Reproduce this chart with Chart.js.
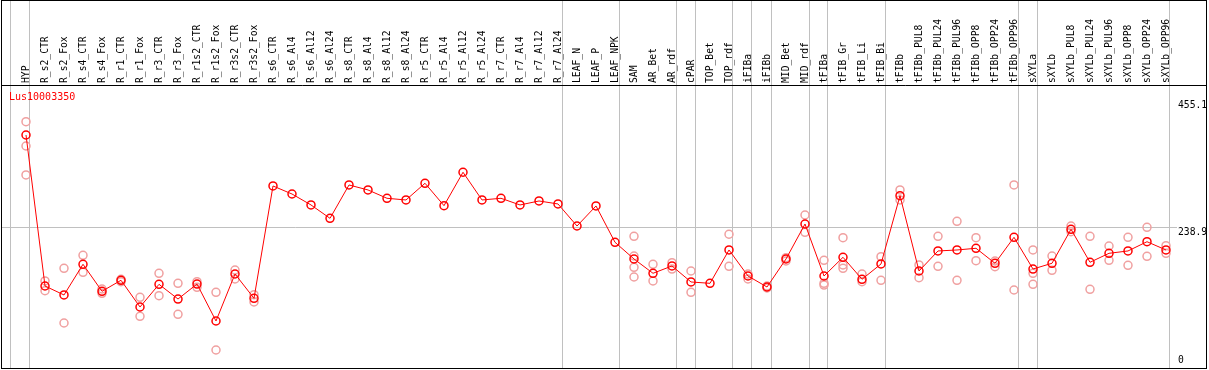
<!DOCTYPE html>
<html>
<head>
<meta charset="utf-8">
<script src="https://cdn.jsdelivr.net/npm/chart.js@4"></script>
<style>
  html, body { margin: 0; padding: 0; background: #fff; }
  canvas { display: block; }
</style>
</head>
<body>
<canvas id="exprChart" width="1209" height="370"></canvas>
<script>
// gene shown in the panel
const geneName = 'Lus10003350';

const categories = [
  'HYP',
  'R_s2_CTR', 'R_s2_Fox', 'R_s4_CTR', 'R_s4_Fox', 'R_r1_CTR', 'R_r1_Fox', 'R_r3_CTR', 'R_r3_Fox',
  'R_r1s2_CTR', 'R_r1s2_Fox', 'R_r3s2_CTR', 'R_r3s2_Fox',
  'R_s6_CTR', 'R_s6_Al4', 'R_s6_Al12', 'R_s6_Al24', 'R_s8_CTR', 'R_s8_Al4', 'R_s8_Al12', 'R_s8_Al24',
  'R_r5_CTR', 'R_r5_Al4', 'R_r5_Al12', 'R_r5_Al24', 'R_r7_CTR', 'R_r7_Al4', 'R_r7_Al12', 'R_r7_Al24',
  'LEAF_N', 'LEAF_P', 'LEAF_NPK',
  'SAM', 'AR_Bet', 'AR_rdf', 'cPAR', 'TOP_Bet', 'TOP_rdf', 'iFIBa', 'iFIBb', 'MID_Bet', 'MID_rdf',
  'tFIBa', 'tFIB_Gr', 'tFIB_Li', 'tFIB_Bi',
  'tFIBb', 'tFIBb_PUL8', 'tFIBb_PUL24', 'tFIBb_PUL96', 'tFIBb_OPP8', 'tFIBb_OPP24', 'tFIBb_OPP96',
  'sXYLa', 'sXYLb', 'sXYLb_PUL8', 'sXYLb_PUL24', 'sXYLb_PUL96', 'sXYLb_OPP8', 'sXYLb_OPP24', 'sXYLb_OPP96'
];

// mean expression (the connected line)
const meanValues = [
  397.6, 139.9, 124.6, 177.0, 130.9, 149.7, 104.1, 142.8, 117.7, 143.3,
  80.2, 160.4, 118.9, 310.6, 296.9, 278.2, 255.4, 312.3, 303.8, 289.6,
  286.7, 315.2, 277.0, 334.0, 286.7, 289.6, 278.2, 285.0, 279.9, 242.3,
  276.5, 214.5, 186.0, 161.6, 174.1, 146.8, 144.5, 201.4, 157.0, 138.2,
  186.0, 245.7, 157.0, 188.9, 151.4, 177.5, 294.0, 165.5, 199.7, 201.4,
  204.3, 178.7, 223.0, 168.9, 178.7, 236.7, 180.4, 195.7, 199.7, 215.5, 201.4
];

// individual replicates (faint circles)
const rep1 = [
  420.3, 148.5, 170.1, 192.3, 134.8, 151.4, 120.6, 161.6, 144.5, 147.3,
  129.2, 167.2, 125.1, null, null, null, null, null, null, null,
  null, null, null, null, null, null, null, null, null, null,
  null, null, 224.7, 177.0, 179.7, 165.5, null, 228.2, 160.4, 139.9,
  188.2, 261.1, 183.8, 222.4, 160.4, 190.0, 303.8, 175.8, 224.7, 250.3,
  222.4, 182.6, 312.3, 201.4, 191.1, 242.3, 224.7, 208.2, 223.0, 240.1, 208.7
];
const rep2 = [
  378.8, 131.9, 76.8, 163.3, 127.5, 147.3, 88.2, 123.4, 91.6, 137.7,
  30.7, 151.9, 112.6, null, null, null, null, null, null, null,
  null, null, null, null, null, null, null, null, null, null,
  null, null, 191.1, 148.5, 168.9, 129.2, null, 173.5, 151.9, 136.5,
  182.6, 231.6, 144.5, 175.8, 147.3, 149.7, 286.7, 154.1, 173.5, 149.7,
  183.1, 172.9, 133.1, 161.6, 166.7, 232.6, 134.3, 183.8, 175.3, 190.6, 195.7
];
const rep3 = [
  329.4, null, null, null, null, null, null, null, null, null,
  null, null, null, null, null, null, null, null, null, null,
  null, null, null, null, null, null, null, null, null, null,
  null, null, 171.8, null, null, null, null, null, null, null,
  null, null, 141.6, 170.1, null, null, null, null, null, null,
  null, null, null, 142.8, null, null, null, null, null, null, null
];
const rep4 = [
  null, null, null, null, null, null, null, null, null, null,
  null, null, null, null, null, null, null, null, null, null,
  null, null, null, null, null, null, null, null, null, null,
  null, null, 155.3, null, null, null, null, null, null, null,
  null, null, null, null, null, null, null, null, null, null,
  null, null, null, null, null, null, null, null, null, null, null
];

const yTicks = [0, 238.9, 455.1];
// column index where a new sample group starts
const groupBreaks = [0, 1, 29, 32, 35, 36, 38, 39, 40, 42, 43, 46, 53, 54, 61];

const monoFont = { family: 'DejaVu Sans Mono', size: 9.7 };
const xMin = -24 / 19;
const xMax = 1151 / 19;

function noPadding(axis) {
  axis.paddingLeft = 0;
  axis.paddingRight = 0;
  axis.paddingTop = 0;
  axis.paddingBottom = 0;
}

const framePlugin = {
  id: 'frame',
  afterDraw(chart) {
    const { ctx, chartArea } = chart;
    ctx.save();
    ctx.strokeStyle = '#000';
    ctx.lineWidth = 1;
    ctx.strokeRect(1.5, 0.5, chart.width - 4, chartArea.bottom);
    ctx.beginPath();
    ctx.moveTo(1.5, chartArea.top + 0.5);
    ctx.lineTo(chart.width - 2.5, chartArea.top + 0.5);
    ctx.stroke();
    ctx.fillStyle = '#ff0000';
    ctx.font = '10px "DejaVu Sans Mono"';
    ctx.textBaseline = 'middle';
    ctx.fillText(geneName, chartArea.left + 7, chartArea.top + 12);
    ctx.restore();
  }
};

function repDataset(values) {
  return {
    data: values,
    showLine: false,
    pointRadius: 4,
    pointBorderWidth: 1.5,
    pointBorderColor: '#f0a0a0',
    pointBackgroundColor: 'rgba(0,0,0,0)',
    order: 1
  };
}

new Chart(document.getElementById('exprChart'), {
  type: 'line',
  data: {
    labels: categories.map((c, i) => i),
    datasets: [
      {
        data: meanValues,
        borderColor: '#ff0000',
        borderWidth: 1,
        tension: 0,
        pointRadius: 4,
        pointBorderWidth: 1.5,
        pointBorderColor: '#ff0000',
        pointBackgroundColor: 'rgba(0,0,0,0)',
        order: 0
      },
      repDataset(rep1),
      repDataset(rep2),
      repDataset(rep3),
      repDataset(rep4)
    ]
  },
  options: {
    responsive: false,
    devicePixelRatio: 1,
    animation: false,
    layout: { autoPadding: false, padding: { left: 2, right: 2, top: 0, bottom: 2 } },
    plugins: {
      legend: { display: false },
      tooltip: { enabled: false }
    },
    scales: {
      x: {
        type: 'linear',
        position: 'top',
        min: xMin,
        max: xMax,
        weight: 1,
        afterBuildTicks: (axis) => { axis.ticks = categories.map((c, i) => ({ value: i })); },
        afterFit: (axis) => { axis.height = 85; noPadding(axis); },
        grid: { display: false, drawTicks: false },
        border: { display: false },
        ticks: {
          autoSkip: false,
          minRotation: 90,
          maxRotation: 90,
          padding: 2,
          labelOffset: 12,
          color: '#000',
          font: monoFont,
          callback: (v) => categories[v]
        }
      },
      xGroups: {
        type: 'linear',
        position: 'top',
        min: xMin,
        max: xMax,
        weight: 0,
        afterBuildTicks: (axis) => { axis.ticks = groupBreaks.map(k => ({ value: k - 15 / 19 })); },
        afterFit: (axis) => { axis.height = 0; noPadding(axis); },
        grid: { color: '#c0c0c0', lineWidth: 1, drawTicks: true, tickLength: 85 },
        border: { display: false },
        ticks: { display: false }
      },
      y: {
        position: 'right',
        min: 0,
        max: 482.9,
        afterBuildTicks: (axis) => { axis.ticks = yTicks.map(v => ({ value: v })); },
        afterFit: (axis) => { axis.width = 30; noPadding(axis); },
        grid: {
          drawTicks: false,
          color: (c) => (c.tick && c.tick.value === yTicks[1]) ? '#c0c0c0' : 'rgba(0,0,0,0)'
        },
        border: { display: false },
        ticks: {
          padding: 1,
          labelOffset: 4,
          color: '#000',
          font: monoFont,
          callback: (v) => v === 0 ? ['0', '', ''] : String(v)
        }
      }
    }
  },
  plugins: [framePlugin]
});
</script>
</body>
</html>
